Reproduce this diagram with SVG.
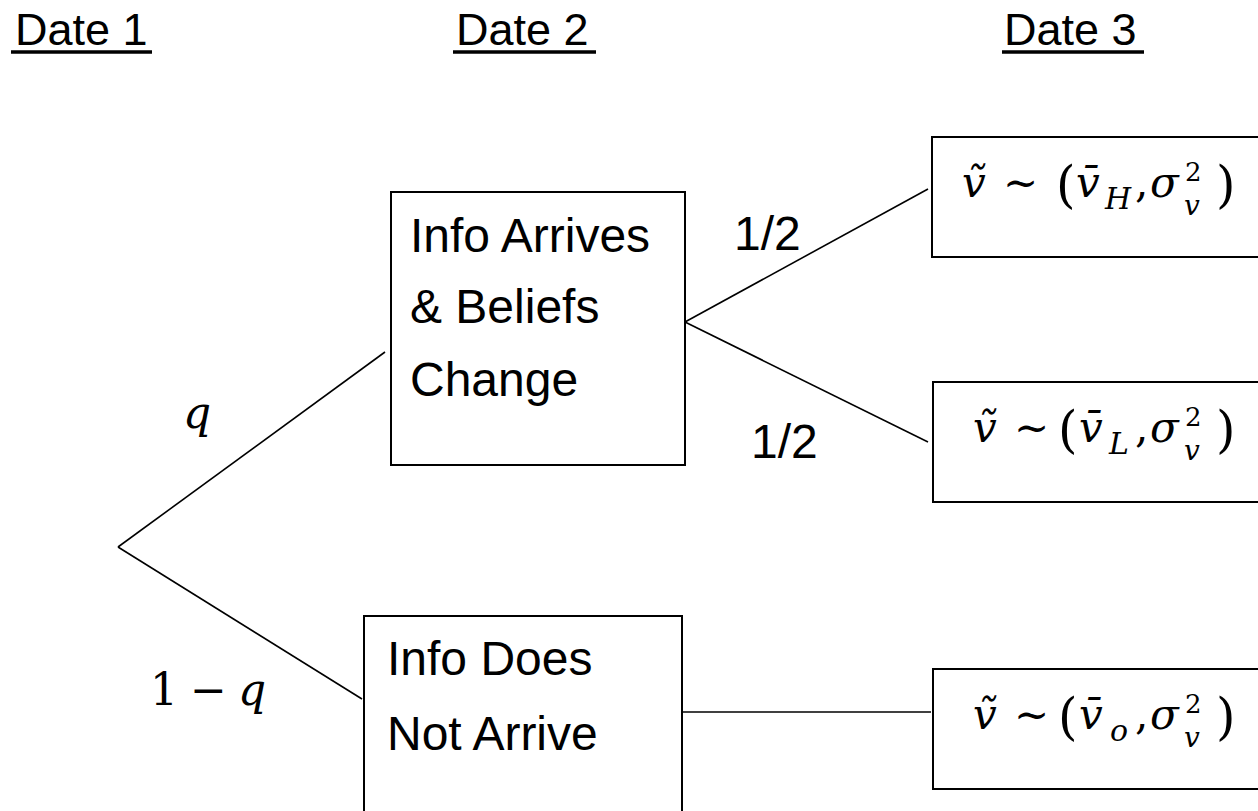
<svg xmlns="http://www.w3.org/2000/svg" width="1258" height="811" viewBox="0 0 1258 811">
<style>
.bg{fill:#ffffff}
.box{fill:none;stroke:#000;stroke-width:2}
.edge{fill:none;stroke:#000;stroke-width:1.6}
.ul{stroke:#000;stroke-width:3.5}
.hdr{font-family:"Liberation Sans","DejaVu Sans",sans-serif;font-size:45px;fill:#000}
.lbl{font-family:"Liberation Sans","DejaVu Sans",sans-serif;font-size:48px;fill:#000}
.m{font-family:"DejaVu Serif",serif;font-style:italic;font-size:42px;fill:#000}
.mu{font-family:"DejaVu Serif",serif;font-size:42px;fill:#000}
.mp{font-family:"DejaVu Serif",serif;font-size:50px;fill:#000}
.ms{font-family:"DejaVu Serif",serif;font-style:italic;font-size:30px;fill:#000}
.mv{font-family:"DejaVu Serif",serif;font-style:italic;font-size:28px;fill:#000}
.msu{font-family:"DejaVu Serif",serif;font-size:26px;fill:#000}
.op{font-family:"DejaVu Serif",serif;font-size:42px;fill:#000}
</style>
<rect class="bg" x="0" y="0" width="1258" height="811"/>

<g id="headers">
  <text class="hdr" x="15" y="45">Date 1</text>
  <line class="ul" x1="11" y1="52" x2="152" y2="52"/>
  <text class="hdr" x="456" y="45">Date 2</text>
  <line class="ul" x1="453" y1="52" x2="596" y2="52"/>
  <text class="hdr" x="1004" y="45">Date 3</text>
  <line class="ul" x1="1002" y1="52" x2="1144" y2="52"/>
</g>

<g id="connectors">
  <line class="edge" x1="118" y1="547" x2="385" y2="352"/>
  <line class="edge" x1="118" y1="547" x2="362" y2="699"/>
  <line class="edge" x1="685" y1="322" x2="928" y2="189"/>
  <line class="edge" x1="685" y1="322" x2="928" y2="442"/>
  <line class="edge" x1="682" y1="712" x2="931" y2="712"/>
  <text class="m" x="183" y="428" style="font-size:44px">q</text>
  <text class="mu" x="150" y="705" style="font-size:44px">1</text>
  <text class="op" x="190" y="705" style="font-size:44px">−</text>
  <text class="m" x="238" y="705" style="font-size:44px">q</text>
  <text class="lbl" x="734" y="250">1/2</text>
  <text class="lbl" x="751" y="458">1/2</text>
</g>

<g id="node-info-arrives">
  <rect class="box" x="391" y="192" width="294" height="273"/>
  <text class="lbl" x="410" y="252">Info Arrives</text>
  <text class="lbl" x="410" y="323">&amp; Beliefs</text>
  <text class="lbl" x="410" y="396">Change</text>
</g>

<g id="node-info-not-arrive">
  <rect class="box" x="364" y="616" width="318" height="220"/>
  <text class="lbl" x="387" y="675">Info Does</text>
  <text class="lbl" x="387" y="750">Not Arrive</text>
</g>

<g id="node-high">
  <rect class="box" x="932" y="137" width="340" height="120"/>
  <text class="m" x="962" y="197">ṽ</text>
  <text class="op" x="1003" y="197">∼</text>
  <text class="mp" x="1056" y="202">(</text>
  <text class="m" x="1076" y="197">v̄</text>
  <text class="ms" x="1105" y="209">H</text>
  <text class="mu" x="1135" y="197">,</text>
  <text class="m" x="1150" y="197">σ</text>
  <text class="msu" x="1185" y="181">2</text>
  <text class="mv" x="1184" y="215">v</text>
  <text class="mp" x="1216" y="202">)</text>
</g>

<g id="node-low">
  <rect class="box" x="933" y="382" width="340" height="120"/>
  <text class="m" x="973" y="442">ṽ</text>
  <text class="op" x="1014" y="442">∼</text>
  <text class="mp" x="1058" y="447">(</text>
  <text class="m" x="1079" y="442">v̄</text>
  <text class="ms" x="1109" y="454">L</text>
  <text class="mu" x="1135" y="442">,</text>
  <text class="m" x="1150" y="442">σ</text>
  <text class="msu" x="1185" y="426">2</text>
  <text class="mv" x="1184" y="460">v</text>
  <text class="mp" x="1216" y="447">)</text>
</g>

<g id="node-none">
  <rect class="box" x="933" y="669" width="340" height="120"/>
  <text class="m" x="973" y="729">ṽ</text>
  <text class="op" x="1014" y="729">∼</text>
  <text class="mp" x="1058" y="734">(</text>
  <text class="m" x="1079" y="729">v̄</text>
  <text class="ms" x="1110" y="741">o</text>
  <text class="mu" x="1135" y="729">,</text>
  <text class="m" x="1150" y="729">σ</text>
  <text class="msu" x="1185" y="713">2</text>
  <text class="mv" x="1184" y="747">v</text>
  <text class="mp" x="1216" y="734">)</text>
</g>
</svg>
